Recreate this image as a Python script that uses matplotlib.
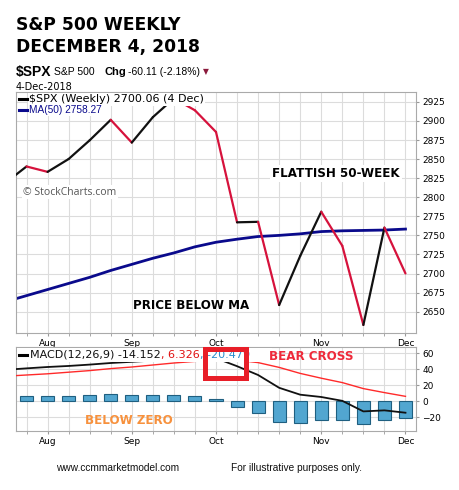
import numpy as np
import matplotlib
matplotlib.use('Agg')
from matplotlib import pyplot as plt
from matplotlib.lines import Line2D
from matplotlib.patches import Rectangle

# weekly data (week start dates), S&P 500 weekly close and indicators
weeks = ['2018-07-23', '2018-07-30', '2018-08-06', '2018-08-13', '2018-08-20',
         '2018-08-27', '2018-09-04', '2018-09-10', '2018-09-17', '2018-09-24',
         '2018-10-01', '2018-10-08', '2018-10-15', '2018-10-22', '2018-10-29',
         '2018-11-05', '2018-11-12', '2018-11-19', '2018-11-26', '2018-12-03']
spx = [2818.82, 2840.35, 2833.28, 2850.13, 2874.69, 2901.52, 2871.68, 2904.98,
       2929.67, 2913.98, 2885.57, 2767.13, 2767.78, 2658.69, 2723.06, 2781.01,
       2736.27, 2632.56, 2760.17, 2700.06]
ma50 = [2663, 2671, 2679, 2687, 2695, 2704, 2712, 2720, 2727, 2735,
        2741, 2745, 2748.5, 2750, 2752, 2755, 2756, 2756.5, 2757, 2758.27]
macd = [39.5, 41.3, 43, 44.3, 46, 48, 49.5, 51, 53, 54,
        54, 44, 33, 17, 8.4, 5.5, 0.7, -12.5, -11.2, -14.152]
signal = [31.5, 33, 34.5, 36.5, 38.5, 41, 43, 45.5, 48, 50,
          51.5, 51.5, 48.5, 42.5, 35, 29, 23.5, 16, 11, 6.326]
hist = [7.0, 7.1, 7.1, 7.1, 8.3, 9.6, 7.9, 7.9, 8.3, 7.1,
        3.1, -6.5, -14.2, -25.8, -27.2, -23.2, -23.2, -28.2, -23.0, -20.479]
price_ticks = list(range(2650, 2926, 25))
macd_ticks = [-20, 0, 20, 40, 60]

W, H = 460, 490
RED = '#d6123c'
NAVY = '#0a0a8c'


def fx(px):
    return px / W


def fy(py):
    return 1 - py / H


x = np.arange(len(weeks))
months = [w[5:7] for w in weeks]
month_names = {'07': 'Jul', '08': 'Aug', '09': 'Sep', '10': 'Oct', '11': 'Nov', '12': 'Dec'}
month_idx = [i for i in range(1, len(weeks)) if months[i] != months[i - 1]]
month_lbl = [month_names[months[i]] for i in month_idx]

fig = plt.figure(figsize=(W / 100, H / 100), dpi=100)
fig.patch.set_facecolor('white')

ax = fig.add_axes([fx(16), fy(333), fx(400), 241 / H])
ax2 = fig.add_axes([fx(16), fy(431), fx(400), 84 / H])


def style_axis(a, yticks, ylim):
    a.yaxis.tick_right()
    a.set_yticks(yticks)
    a.set_xticks(month_idx)
    a.set_xticklabels(month_lbl)
    a.set_xticks(x, minor=True)
    # limits after the ticks, set_ticks widens the view otherwise
    a.set_xlim(0.5, len(weeks) - 0.5)
    a.set_ylim(*ylim)
    a.grid(which='both', color='#dcdcdc', lw=0.8)
    a.set_axisbelow(True)
    for s in a.spines.values():
        s.set_color('#aaaaaa')
    a.tick_params(which='both', length=2.5, color='#999999', labelsize=6.5, pad=2)
    a.tick_params(axis='x', which='major', pad=1.5)


# price panel: black when rising, red when falling
for k in range(len(spx) - 1):
    col = '#111111' if spx[k + 1] >= spx[k] else RED
    ax.plot(x[k:k + 2], spx[k:k + 2], color=col, lw=1.6, solid_capstyle='round', zorder=3)
ax.plot(x, ma50, color=NAVY, lw=2, zorder=2)
style_axis(ax, price_ticks, (2622, 2938))

# MACD panel
ax2.bar(x, hist, width=0.62, color='#52a6d0', edgecolor='#1f5f80', lw=0.8, zorder=2)
ax2.plot(x, signal, color='#ff2a2a', lw=1, zorder=3)
ax2.plot(x, macd, color='#111111', lw=1.3, zorder=4)
style_axis(ax2, macd_ticks, (-37, 68))

# titles and header
fig.text(fx(16), fy(29.5), 'S&P 500 WEEKLY', fontsize=12.3, fontweight='bold', va='baseline')
fig.text(fx(16), fy(52), 'DECEMBER 4, 2018', fontsize=12.3, fontweight='bold', va='baseline')

renderer = fig.canvas.get_renderer()


def chain(pieces, x0, y0, va='center', zorder=5):
    xp = x0
    for txt, col, size, weight, fam, gap in pieces:
        t = fig.text(fx(xp), fy(y0), txt, color=col, fontsize=size, fontweight=weight,
                     family=fam, va=va, ha='left', zorder=zorder)
        bb = t.get_window_extent(renderer)
        xp = bb.x1 + gap


chain([('$SPX', 'black', 10, 'bold', 'Liberation Sans', 3),
       ('S&P 500', 'black', 7.5, 'normal', 'Liberation Sans', 9),
       ('Chg', 'black', 8, 'bold', 'Liberation Sans', 2),
       ('-60.11 (-2.18%)', 'black', 7.5, 'normal', 'Liberation Sans', 3),
       ('\u25bc', '#8b1a3c', 5.5, 'normal', 'DejaVu Sans', 0)], 16, 72)
fig.text(fx(16), fy(86.5), '4-Dec-2018', fontsize=7, family='DejaVu Sans', va='center')

# price legend
fig.text(fx(29), fy(99.5), '$SPX (Weekly) 2700.06 (4 Dec)', fontsize=8, family='DejaVu Sans',
         va='center', zorder=5,
         bbox=dict(facecolor='white', edgecolor='none', pad=1.0))
fig.add_artist(Line2D([fx(19), fx(27)], [fy(99.5), fy(99.5)], color='black', lw=2.2, zorder=6))
fig.text(fx(29), fy(110), 'MA(50) 2758.27', fontsize=7.3, family='Liberation Sans', color=NAVY,
         va='center', zorder=5,
         bbox=dict(facecolor='white', edgecolor='none', pad=0.8))
fig.add_artist(Line2D([fx(19), fx(27)], [fy(110), fy(110)], color=NAVY, lw=2.2, zorder=6))

fig.text(fx(23), fy(192), '\u00a9 StockCharts.com', fontsize=7.5, color='#555555', va='center',
         family='Open Sans', zorder=5, bbox=dict(facecolor='white', edgecolor='none', pad=1))

fig.text(fx(336), fy(173.5), 'FLATTISH 50-WEEK', fontsize=8.6, fontweight='bold', ha='center',
         va='center', zorder=5, bbox=dict(facecolor='white', edgecolor='none', pad=1.5))
fig.text(fx(191), fy(305), 'PRICE BELOW MA', fontsize=8.6, fontweight='bold', ha='center',
         va='center', zorder=5)

# MACD legend
fig.add_artist(Rectangle((fx(16.5), fy(362)), fx(255), 14.5 / H, transform=fig.transFigure,
                         facecolor='white', edgecolor='none', zorder=4))
chain([('MACD(12,26,9) -14.152', '#111111', 8, 'normal', 'DejaVu Sans', 0),
       (', 6.326', '#e01010', 8, 'normal', 'DejaVu Sans', 1),
       (', -20.479', '#2a8ccc', 8, 'normal', 'DejaVu Sans', 0)], 30, 354.5)
fig.add_artist(Line2D([fx(19), fx(27)], [fy(354.5), fy(354.5)], color='black', lw=2.2, zorder=6))

fig.add_artist(Rectangle((fx(205), fy(377.5)), fx(41), 29 / H, transform=fig.transFigure,
                         facecolor='none', edgecolor='#e81e28', lw=3.6, zorder=7))

fig.text(fx(311), fy(356), 'BEAR CROSS', fontsize=8.6, fontweight='bold', color='#ee2a3a',
         ha='center', va='center', zorder=5)
fig.text(fx(128.5), fy(420.5), 'BELOW ZERO', fontsize=8.6, fontweight='bold', color='#f7913d',
         ha='center', va='center', zorder=5)

# footer
fig.text(fx(56), fy(467.5), 'www.ccmmarketmodel.com', fontsize=7.3, family='Liberation Sans',
         va='center', color='#111111')
fig.text(fx(231), fy(467.5), 'For illustrative purposes only.', fontsize=7.3, family='Liberation Sans',
         va='center', color='#111111')

plt.savefig('out.png', dpi=100)
